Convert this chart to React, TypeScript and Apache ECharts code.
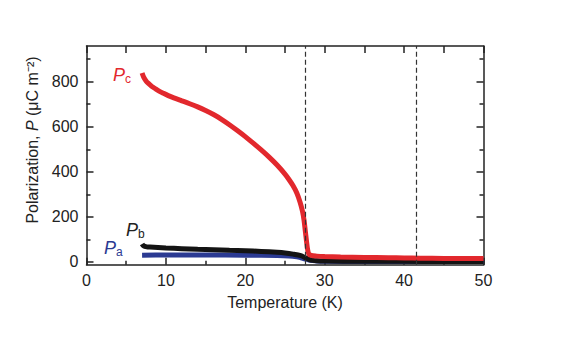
import React, { useEffect, useRef } from "react";
import * as echarts from "echarts";

const xTicks = [0, 10, 20, 30, 40, 50];
const yTickLabels = [0, 200, 400, 600, 800];
const yMinorTicks = [100, 300, 500, 700, 900];
const dashedLinesX = [27.5, 41.5];

const pcData: number[][] = [
  [7, 838], [7.2, 820], [7.5, 803], [7.8, 792], [8.2, 780], [8.7, 768], [9.2, 757], [9.7, 748],
  [10.3, 738], [11, 728], [12, 715], [13, 702], [14, 688], [15, 672], [16, 654], [17, 633],
  [18, 609], [19, 583], [20, 556], [21, 527], [22, 497], [23, 465], [24, 430], [25, 390],
  [25.5, 366], [26, 339], [26.5, 305], [26.9, 265], [27.2, 225], [27.4, 185], [27.55, 140],
  [27.7, 95], [27.85, 55], [28, 36], [28.3, 29], [29, 26], [30, 24], [32, 22], [35, 20],
  [38, 19], [40, 18], [42, 17], [45, 16], [48, 15], [50, 15],
];

const pbData: number[][] = [
  [7, 80], [7.2, 71], [7.6, 67], [8, 66], [10, 62], [12, 59], [14, 56], [16, 54], [18, 52],
  [20, 50], [22, 47], [24, 43], [25, 40], [26, 35], [27, 28], [27.5, 20], [28, 12],
  [28.5, 7], [29, 5], [30, 4], [35, 3], [40, 3], [45, 2], [50, 2],
];

const paData: number[][] = [
  [7, 30], [10, 31], [15, 31], [20, 30], [24, 29], [25.5, 27], [26.5, 23], [27, 19],
  [27.5, 14], [28, 9], [28.5, 6], [29, 4], [30, 3], [35, 2], [40, 2], [50, 2],
];

const RED = "#e2282d";
const BLACK = "#141414";
const BLUE = "#2b3a92";
const AXIS = "#222";
const FONT = "Liberation Sans, Arial, sans-serif";

export default function App() {
  const ref = useRef<HTMLDivElement>(null);
  useEffect(() => {
    if (!ref.current) return;
    const chart = echarts.init(ref.current, undefined, { renderer: "svg" });
    const yMin = -12;
    const yMax = 958;
    const baseY = {
      type: "value" as const,
      min: yMin,
      max: yMax,
      splitLine: { show: false },
    };
    const line = (show: boolean) => ({ show, onZero: false, lineStyle: { color: AXIS, width: 1.5 } });
    const pLabel = (x: number, y: number, sub: string, color: string) => [
      {
        type: "text",
        left: x,
        top: y,
        style: { text: "P", fontFamily: FONT, fontStyle: "italic", fontSize: 18, fill: color },
      },
      {
        type: "text",
        left: x + 12,
        top: y + 7,
        style: { text: sub, fontFamily: FONT, fontSize: 12, fill: color },
      },
    ];
    chart.setOption({
      animation: false,
      backgroundColor: "#fff",
      grid: { left: 86.5, right: 86.5, top: 46, bottom: 94.3, containLabel: false },
      xAxis: [
        {
          type: "value",
          min: 0,
          max: 50,
          interval: 10,
          position: "bottom",
          axisLine: line(true),
          axisTick: { show: true, inside: true, length: 7, lineStyle: { color: AXIS, width: 1.5 } },
          minorTick: { show: true, splitNumber: 2, length: 4, lineStyle: { color: AXIS, width: 1.5 } },
          axisLabel: {
            color: "#222",
            fontSize: 16,
            fontFamily: FONT,
            margin: 8,
            formatter: (v: number) => (xTicks.includes(v) ? String(v) : ""),
          },
          splitLine: { show: false },
          name: "Temperature (K)",
          nameLocation: "middle",
          nameGap: 30,
          nameTextStyle: { color: "#222", fontSize: 16, fontFamily: FONT },
        },
        {
          type: "value",
          min: 0,
          max: 50,
          interval: 5,
          position: "top",
          axisLine: line(true),
          axisTick: { show: true, inside: true, length: 7, lineStyle: { color: AXIS, width: 1.5 } },
          axisLabel: { show: false },
          splitLine: { show: false },
        },
      ],
      yAxis: [
        {
          ...baseY,
          position: "left",
          axisLine: line(true),
          axisTick: {
            show: true, inside: true, length: 7, customValues: yTickLabels,
            lineStyle: { color: AXIS, width: 1.5 },
          },
          axisLabel: {
            show: true, customValues: yTickLabels, color: "#222", fontSize: 16,
            fontFamily: FONT, margin: 8,
          },
        },
        {
          ...baseY,
          position: "left",
          axisLine: line(false),
          axisTick: {
            show: true, inside: true, length: 4, customValues: yMinorTicks,
            lineStyle: { color: AXIS, width: 1.5 },
          },
          axisLabel: { show: false },
        },
        {
          ...baseY,
          position: "right",
          axisLine: line(true),
          axisTick: {
            show: true, inside: true, length: 7, customValues: yTickLabels,
            lineStyle: { color: AXIS, width: 1.5 },
          },
          axisLabel: { show: false },
        },
        {
          ...baseY,
          position: "right",
          axisLine: line(false),
          axisTick: {
            show: true, inside: true, length: 4, customValues: yMinorTicks,
            lineStyle: { color: AXIS, width: 1.5 },
          },
          axisLabel: { show: false },
        },
      ],
      series: [
        {
          type: "line",
          name: "Pa",
          data: paData,
          showSymbol: false,
          smooth: 0.3,
          lineStyle: { color: BLUE, width: 5 },
          markLine: {
            silent: true,
            symbol: "none",
            label: { show: false },
            lineStyle: { color: "#333", type: [5, 3], width: 1.2 },
            data: dashedLinesX.map((x) => ({ xAxis: x })),
          },
        },
        {
          type: "line",
          name: "Pb",
          data: pbData,
          showSymbol: false,
          smooth: 0.3,
          lineStyle: { color: BLACK, width: 5 },
        },
        {
          type: "line",
          name: "Pc",
          data: pcData,
          showSymbol: false,
          smooth: 0.3,
          lineStyle: { color: RED, width: 5 },
        },
      ],
      graphic: [
        {
          type: "text",
          x: 32,
          y: 140,
          rotation: Math.PI / 2,
          style: {
            text: "Polarization, {i|P} (μC m⁻²)",
            rich: { i: { fontStyle: "italic", fontSize: 16, fontFamily: FONT, fill: "#222" } },
            fontSize: 16,
            fontFamily: FONT,
            fill: "#222",
            align: "center",
            verticalAlign: "middle",
          },
        },
        ...pLabel(113, 66, "c", RED),
        ...pLabel(126, 221, "b", "#222"),
        ...pLabel(104, 239, "a", BLUE),
      ],
    });
    return () => chart.dispose();
  }, []);
  return (
    <div
      ref={ref}
      style={{ position: "fixed", left: 0, top: 0, width: 570, height: 359, background: "#fff" }}
    />
  );
}
